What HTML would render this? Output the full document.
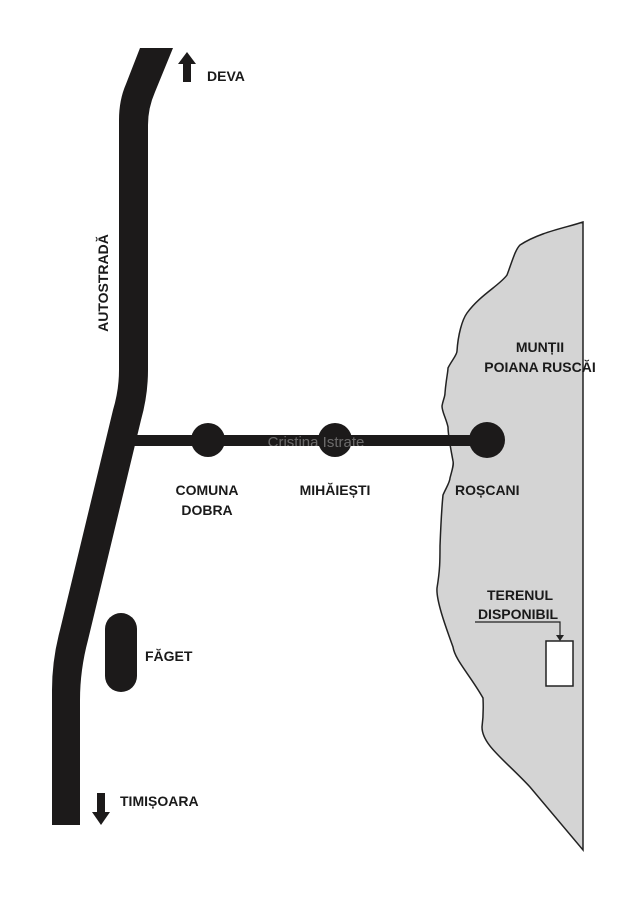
<!DOCTYPE html>
<html><head><meta charset="utf-8"><style>
body{margin:0;background:#fff}
text{font-family:"Liberation Sans",sans-serif;font-weight:bold;fill:#1a1a1a;font-size:14px}
</style></head><body>
<svg width="636" height="900" viewBox="0 0 636 900" xmlns="http://www.w3.org/2000/svg">
<rect width="636" height="900" fill="#fff"/>
<path d="M583,222 L583,850 L530,787 C505,760 482,745 482,727 C484,712 483,700 483,698 C470,675 455,660 453,647 C445,625 436,600 437,588 C440,570 440,560 440,546 C441,520 442,505 443,495 C446,488 450,482 450,478 C452,470 454,465 453,461 C450,445 448,435 448,427 C446,418 442,412 442,406 C443,400 445,397 445,393 C446,380 448,372 448,368 C452,360 457,355 457,351 C458,335 462,320 467,313 C480,295 500,285 507,275 C512,262 515,250 520,245 C540,232 565,228 583,222 Z" fill="#d4d4d4" stroke="#222" stroke-width="1.5"/>
<path d="M140,48 L173,48 L155,92 Q148,108 148,125 L148,370 Q148,395 141,420 L88,640 Q80,670 80,700 L80,825 L52,825 L52,690 Q52,660 60,630 L113,410 Q119,390 119,370 L119,120 Q119,100 126,84 Z" fill="#1c1a1a"/>
<rect x="130" y="435" width="357" height="11" fill="#1c1a1a"/>
<circle cx="208" cy="440" r="17" fill="#1c1a1a"/>
<circle cx="335" cy="440" r="17" fill="#1c1a1a"/>
<circle cx="487" cy="440" r="18" fill="#1c1a1a"/>
<rect x="105" y="613" width="32" height="79" rx="16" fill="#1c1a1a"/>
<rect x="546" y="641" width="27" height="45" fill="#fff" stroke="#222" stroke-width="1.5"/>
<path d="M475,622 H560 V636" fill="none" stroke="#222" stroke-width="1.2"/>
<path d="M556,635 L564,635 L560,641 Z" fill="#222"/>
<path d="M187,52 L196,64 L191,64 L191,82 L183,82 L183,64 L178,64 Z" fill="#1c1a1a"/>
<path d="M101,825 L110,812 L105,812 L105,793 L97,793 L97,812 L92,812 Z" fill="#1c1a1a"/>
<text x="207" y="81">DEVA</text>
<text x="120" y="806">TIMIȘOARA</text>
<text x="145" y="661">FĂGET</text>
<text transform="translate(108,283) rotate(-90)" text-anchor="middle">AUTOSTRADĂ</text>
<text x="207" y="495" text-anchor="middle">COMUNA</text>
<text x="207" y="515" text-anchor="middle">DOBRA</text>
<text x="335" y="495" text-anchor="middle">MIHĂIEȘTI</text>
<text x="455" y="495">ROȘCANI</text>
<text x="540" y="352" text-anchor="middle">MUNȚII</text>
<text x="540" y="372" text-anchor="middle">POIANA RUSCĂI</text>
<text x="520" y="600" text-anchor="middle">TERENUL</text>
<text x="518" y="619" text-anchor="middle">DISPONIBIL</text>
<text x="316" y="447" style="font-weight:normal;fill:#fff;opacity:0.35;font-size:15px" text-anchor="middle">Cristina Istrate</text>
</svg>
</body></html>
